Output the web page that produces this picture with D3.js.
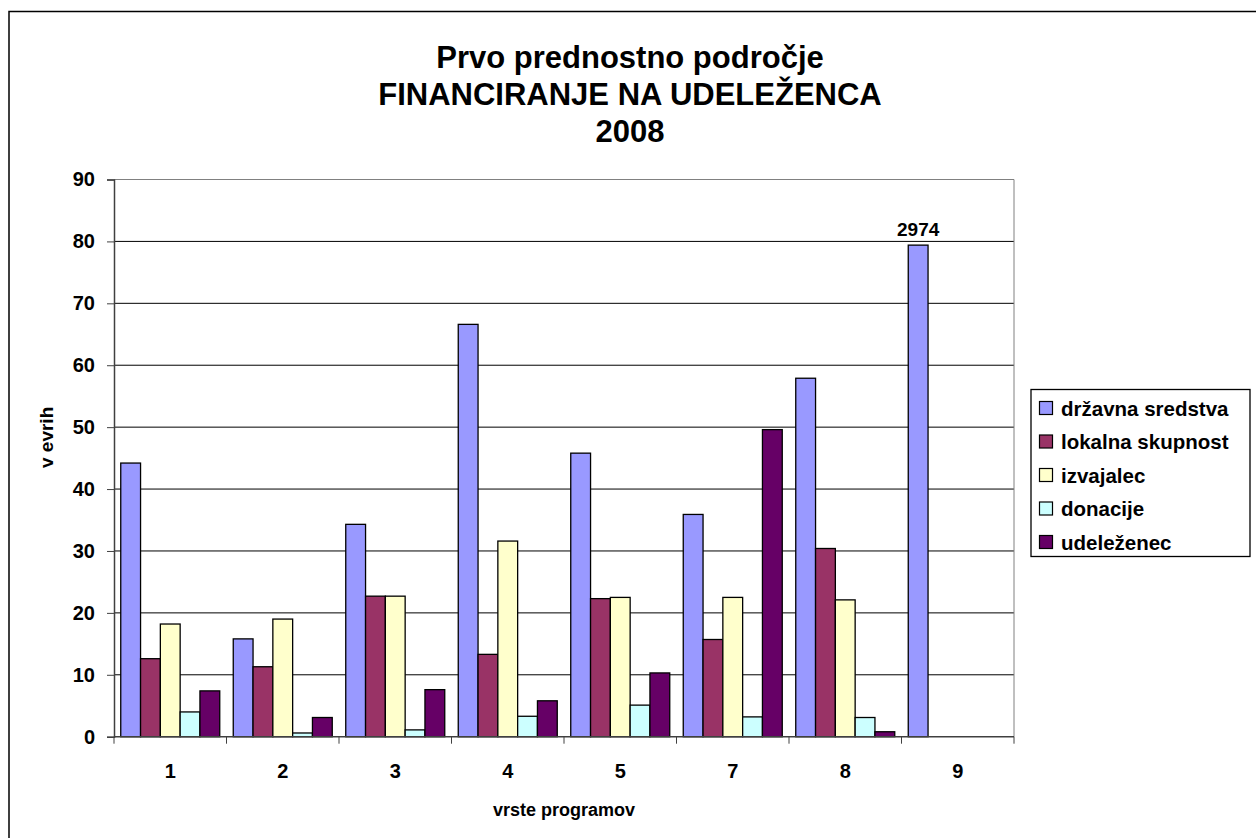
<!DOCTYPE html>
<html lang="sl">
	<head>
		<meta charset="utf-8">
		<title>Prvo prednostno področje - financiranje na udeleženca 2008</title>
		<script src="https://d3js.org/d3.v7.min.js"></script>
		<style type="text/css">
			body { margin: 0; background: #fff; }
			text { font-family: "Liberation Sans", Arial, sans-serif; font-weight: bold; fill: #000; }
		</style>
	</head>
	<body>
		<script type="text/javascript">

			//Data
			var programs = ["1", "2", "3", "4", "5", "7", "8", "9"];
			var seriesNames = ["državna sredstva", "lokalna skupnost", "izvajalec", "donacije", "udeleženec"];
			var drzavna = [44.2, 15.8, 34.3, 66.6, 45.8, 35.9, 57.9, 79.4];
			var lokalna = [12.6, 11.3, 22.7, 13.3, 22.3, 15.7, 30.4, 0];
			var izvajalec = [18.2, 19.0, 22.7, 31.6, 22.5, 22.5, 22.1, 0];
			var donacije = [4.0, 0.6, 1.1, 3.3, 5.1, 3.2, 3.1, 0];
			var udelezenec = [7.4, 3.1, 7.6, 5.8, 10.3, 49.6, 0.8, 0];
			var drzavnaLabels = ["", "", "", "", "", "", "", "2974"];
			var yTicks = [0, 10, 20, 30, 40, 50, 60, 70, 80, 90];
			var titleLines = ["Prvo prednostno področje", "FINANCIRANJE NA UDELEŽENCA", "2008"];

			var colors = ["#9999ff", "#993366", "#ffffcc", "#ccffff", "#660066"];
			var series = [drzavna, lokalna, izvajalec, donacije, udelezenec];

			//Width and height
			var w = 1256;
			var h = 838;
			var plotLeft = 114, plotRight = 1014, plotTop = 179.5, plotBottom = 736.7;

			var svg = d3.select("body")
						.append("svg")
						.attr("width", w)
						.attr("height", h);

			//Chart border (runs past the picture on right and bottom)
			svg.append("rect")
				.attr("x", 9)
				.attr("y", 11.5)
				.attr("width", 1300)
				.attr("height", 900)
				.attr("fill", "#fff")
				.attr("stroke", "#000")
				.attr("stroke-width", 1.5);

			//Scales
			var xScale = d3.scaleBand()
					.domain(programs)
					.range([plotLeft, plotRight]);

			var x1 = d3.scaleBand()
					.domain(d3.range(series.length))
					.range([6.75, xScale.bandwidth() - 6.75]);

			var yScale = d3.scaleLinear()
					.domain([0, 90])
					.range([plotBottom, plotTop]);

			//Gridlines
			svg.append("g")
				.selectAll("line")
				.data(yTicks.slice(1))
				.enter()
				.append("line")
				.attr("x1", plotLeft)
				.attr("x2", plotRight)
				.attr("y1", function(d) { return yScale(d); })
				.attr("y2", function(d) { return yScale(d); })
				.attr("stroke", function(d) { return d == 90 ? "#808080" : "#000"; })
				.attr("stroke-width", 1);

			//Plot right edge
			svg.append("line")
				.attr("x1", plotRight).attr("x2", plotRight)
				.attr("y1", plotTop).attr("y2", plotBottom)
				.attr("stroke", "#808080");

			//Bars
			var groups = svg.append("g")
				.selectAll("g")
				.data(series)
				.enter()
				.append("g")
				.attr("fill", function(d, i) { return colors[i]; });

			groups.selectAll("rect")
				.data(function(d, i) {
					return d.map(function(v, j) { return {s: i, p: programs[j], v: v}; })
						.filter(function(e) { return e.v > 0; });
				})
				.enter()
				.append("rect")
				.attr("x", function(d) { return xScale(d.p) + x1(d.s); })
				.attr("y", function(d) { return yScale(d.v); })
				.attr("width", x1.bandwidth())
				.attr("height", function(d) { return yScale(0) - yScale(d.v); })
				.attr("stroke", "#000")
				.attr("stroke-width", 1.3);

			//Value label on the last bar
			svg.selectAll(".vlabel")
				.data(drzavnaLabels.map(function(l, j) { return {l: l, p: programs[j], v: drzavna[j]}; })
					.filter(function(d) { return d.l != ""; }))
				.enter()
				.append("text")
				.attr("class", "vlabel")
				.attr("x", function(d) { return xScale(d.p) + x1(0) + x1.bandwidth() / 2; })
				.attr("y", function(d) { return yScale(d.v) - 9; })
				.attr("text-anchor", "middle")
				.attr("font-size", "19px")
				.text(function(d) { return d.l; });

			//Y axis
			var yAxis = d3.axisLeft(yScale)
					.tickValues(yTicks)
					.tickSize(7)
					.tickPadding(12);

			var gy = svg.append("g")
				.attr("transform", "translate(" + plotLeft + ",0)")
				.call(yAxis);
			gy.select(".domain").attr("stroke", "#404040").attr("stroke-width", 1.5);
			gy.selectAll(".tick line").attr("stroke", "#404040");
			gy.selectAll(".tick text")
				.attr("font-size", "20px")
				.attr("font-family", null);
			gy.attr("font-family", null).attr("font-size", null);

			//X axis
			var gx = svg.append("g")
				.attr("transform", "translate(0," + plotBottom + ")");
			gx.append("line")
				.attr("x1", plotLeft).attr("x2", plotRight)
				.attr("stroke", "#404040").attr("stroke-width", 1.5);
			gx.selectAll(".xtick")
				.data(programs.concat(["end"]))
				.enter()
				.append("line")
				.attr("class", "xtick")
				.attr("x1", function(d, i) { return plotLeft + i * xScale.step(); })
				.attr("x2", function(d, i) { return plotLeft + i * xScale.step(); })
				.attr("y1", 0)
				.attr("y2", 7)
				.attr("stroke", "#404040");
			gx.selectAll(".xlabel")
				.data(programs)
				.enter()
				.append("text")
				.attr("class", "xlabel")
				.attr("x", function(d) { return xScale(d) + xScale.bandwidth() / 2; })
				.attr("y", 41)
				.attr("text-anchor", "middle")
				.attr("font-size", "20px")
				.text(function(d) { return d; });

			//Axis titles
			svg.append("text")
				.attr("x", (plotLeft + plotRight) / 2)
				.attr("y", 816)
				.attr("text-anchor", "middle")
				.attr("font-size", "18px")
				.text("vrste programov");

			svg.append("text")
				.attr("transform", "translate(53,468) rotate(-90)")
				.attr("text-anchor", "start")
				.attr("font-size", "19px")
				.text("v evrih");

			//Title
			svg.append("g")
				.selectAll("text")
				.data(titleLines)
				.enter()
				.append("text")
				.attr("x", 630)
				.attr("y", function(d, i) { return 68 + i * 37; })
				.attr("text-anchor", "middle")
				.attr("font-size", "31px")
				.text(function(d) { return d; });

			//Legend
			var legend = svg.append("g");
			legend.append("rect")
				.attr("x", 1031)
				.attr("y", 389.5)
				.attr("width", 219)
				.attr("height", 167)
				.attr("fill", "#fff")
				.attr("stroke", "#000")
				.attr("stroke-width", 1.3);

			var items = legend.selectAll(".item")
				.data(seriesNames)
				.enter()
				.append("g")
				.attr("class", "item")
				.attr("transform", function(d, i) { return "translate(1039," + (408 + i * 33.5) + ")"; });

			items.append("rect")
				.attr("x", 0.5)
				.attr("y", -6.5)
				.attr("width", 13)
				.attr("height", 13)
				.attr("fill", function(d, i) { return colors[i]; })
				.attr("stroke", "#000")
				.attr("stroke-width", 1.2);

			items.append("text")
				.attr("x", 22)
				.attr("y", 7.5)
				.attr("font-size", "20.5px")
				.text(function(d) { return d; });

		</script>
	</body>
</html>
